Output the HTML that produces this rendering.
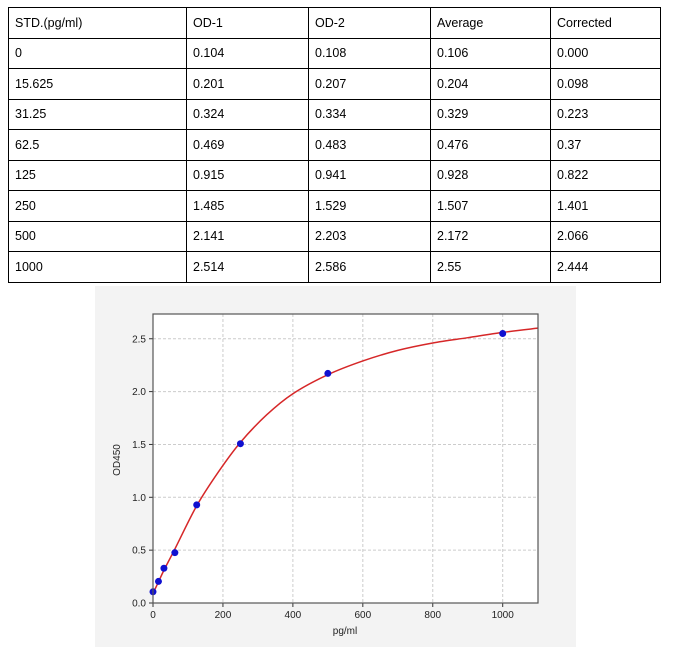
<!DOCTYPE html>
<html><head><meta charset="utf-8"><style>
body{margin:0;background:#fff;width:690px;height:651px;position:relative;font-family:"Liberation Sans",sans-serif;}
table{position:absolute;left:8px;top:7px;border-collapse:collapse;}
td{border:1px solid #000;height:30.5px;padding:0 0 0 6px;font-size:12.5px;color:#000;box-sizing:border-box;}
svg{position:absolute;left:0;top:0;}
</style></head><body>
<table>
<tr><td style="width:178px">STD.(pg/ml)</td><td style="width:122px">OD-1</td><td style="width:122px">OD-2</td><td style="width:120px">Average</td><td style="width:110px">Corrected</td></tr>
<tr><td>0</td><td>0.104</td><td>0.108</td><td>0.106</td><td>0.000</td></tr>
<tr><td>15.625</td><td>0.201</td><td>0.207</td><td>0.204</td><td>0.098</td></tr>
<tr><td>31.25</td><td>0.324</td><td>0.334</td><td>0.329</td><td>0.223</td></tr>
<tr><td>62.5</td><td>0.469</td><td>0.483</td><td>0.476</td><td>0.37</td></tr>
<tr><td>125</td><td>0.915</td><td>0.941</td><td>0.928</td><td>0.822</td></tr>
<tr><td>250</td><td>1.485</td><td>1.529</td><td>1.507</td><td>1.401</td></tr>
<tr><td>500</td><td>2.141</td><td>2.203</td><td>2.172</td><td>2.066</td></tr>
<tr><td>1000</td><td>2.514</td><td>2.586</td><td>2.55</td><td>2.444</td></tr>
</table>
<svg width="690" height="651" id="s" font-family="Liberation Sans, sans-serif">
<rect x="95" y="286" width="481" height="361" fill="#f3f3f3"/>
<rect x="153" y="314" width="385" height="289" fill="#fff"/>
<g id="g"></g>
<rect x="153" y="314" width="385" height="289" fill="none" stroke="#555" stroke-width="1.2"/>
<text x="345" y="634" font-size="10" text-anchor="middle" fill="#222">pg/ml</text>
<text transform="translate(120,460) rotate(-90)" font-size="10" text-anchor="middle" fill="#222">OD450</text>
</svg>
<script>
var g=document.getElementById('g'),h='';
function X(v){return 153+0.3497*v}function Y(v){return 603-105.7*v}
[0,200,400,600,800,1000].forEach(function(v){var x=X(v);h+='<line x1="'+x+'" y1="314" x2="'+x+'" y2="603" stroke="#ccc" stroke-dasharray="3,2"/><line x1="'+x+'" y1="603" x2="'+x+'" y2="607" stroke="#333"/><text x="'+x+'" y="618" font-size="10" text-anchor="middle" fill="#222">'+v+'</text>';});
[0,0.5,1,1.5,2,2.5].forEach(function(v){var y=Y(v);h+='<line x1="153" y1="'+y+'" x2="538" y2="'+y+'" stroke="#ccc" stroke-dasharray="3,2"/><line x1="149" y1="'+y+'" x2="153" y2="'+y+'" stroke="#333"/><text x="146" y="'+(y+3.5)+'" font-size="10" text-anchor="end" fill="#222">'+v.toFixed(1)+'</text>';});
var P=[[0,0.09],[15.6,0.2],[31.25,0.31],[62.5,0.51],[125,0.92],[187,1.24],[250,1.52],[325,1.78],[400,1.98],[500,2.16],[600,2.29],[700,2.39],[800,2.46],[900,2.51],[1000,2.56],[1100,2.6]].map(function(p){return[X(p[0]),Y(p[1])]});
var d='M'+P[0][0]+','+P[0][1];
for(var i=0;i<P.length-1;i++){var p0=P[Math.max(i-1,0)],p1=P[i],p2=P[i+1],p3=P[Math.min(i+2,P.length-1)];
d+=' C'+(p1[0]+(p2[0]-p0[0])/6)+','+(p1[1]+(p2[1]-p0[1])/6)+' '+(p2[0]-(p3[0]-p1[0])/6)+','+(p2[1]-(p3[1]-p1[1])/6)+' '+p2[0]+','+p2[1];}
h+='<path d="'+d+'" fill="none" stroke="#d62728" stroke-width="1.5"/>';
[[0,0.106],[15.625,0.204],[31.25,0.329],[62.5,0.476],[125,0.928],[250,1.507],[500,2.172],[1000,2.55]].forEach(function(p){h+='<circle cx="'+X(p[0])+'" cy="'+Y(p[1])+'" r="3.5" fill="#1010d0"/>';});
g.innerHTML=h;
</script>
</body></html>
